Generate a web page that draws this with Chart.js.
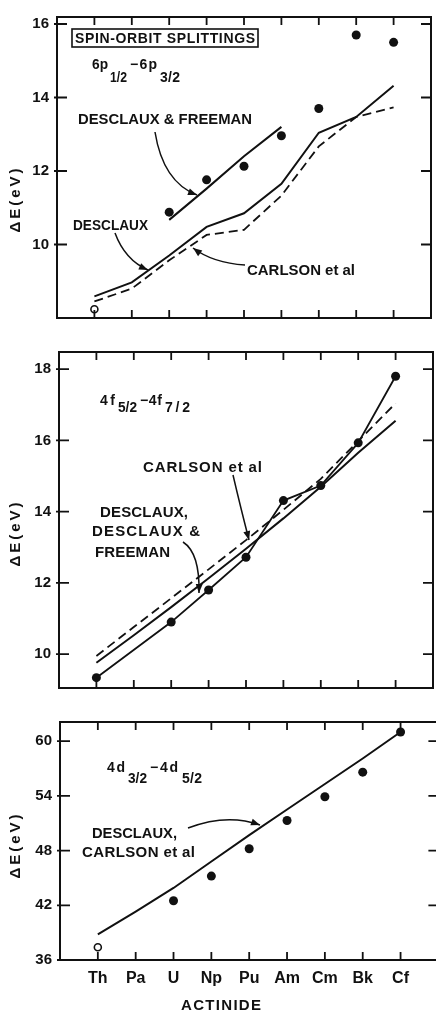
<!DOCTYPE html>
<html>
<head>
<meta charset="utf-8">
<script src="https://cdn.jsdelivr.net/npm/chart.js@4.4.0/dist/chart.umd.min.js"></script>
<style>
  html, body { margin: 0; padding: 0; background: #fff; width: 436px; height: 1011px; overflow: hidden; }
  .panel { position: absolute; left: 0; width: 444px; }
</style>
</head>
<body>
<div class="panel" style="top:0;height:335px"><canvas id="c1"></canvas></div>
<div class="panel" style="top:335px;height:370px"><canvas id="c2"></canvas></div>
<div class="panel" style="top:705px;height:306px"><canvas id="c3"></canvas></div>
<script>
const actinides = ["Th", "Pa", "U", "Np", "Pu", "Am", "Cm", "Bk", "Cf"];

// 6p1/2 - 6p3/2 splitting (eV)
const p6Measured = [null, null, 10.88, 11.76, 12.13, 12.96, 13.7, 15.7, 15.5];
const p6Estimate = [8.24, null, null, null, null, null, null, null, null];
const p6DesclauxFreeman = [null, null, 10.67, 11.52, 12.4, 13.2, null, null, null];
const p6Desclaux = [8.59, 8.97, 9.7, 10.48, 10.85, 11.65, 13.04, 13.47, 14.32];
const p6Carlson = [8.45, 8.8, 9.57, 10.26, 10.4, 11.33, 12.67, 13.47, 13.73];
const p6Ticks = [10, 12, 14, 16];

// 4f5/2 - 4f7/2 splitting (eV)
const f4Measured = [9.34, null, 10.9, 11.8, 12.72, 14.31, 14.73, 15.93, 17.8];
const f4Desclaux = [9.76, 10.53, 11.32, 12.13, 12.96, 13.81, 14.7, 15.65, 16.55];
const f4Carlson = [9.95, 10.76, 11.57, 12.38, 13.2, 14.05, 14.92, 15.98, 17.04];
const f4Ticks = [10, 12, 14, 16, 18];

// 4d3/2 - 4d5/2 splitting (eV)
const d4Measured = [null, null, 42.5, 45.2, 48.2, 51.3, 53.9, 56.6, 61.0];
const d4Estimate = [37.4, null, null, null, null, null, null, null, null];
const d4Theory = [38.8, 41.3, 43.9, 46.8, 49.7, 52.5, 55.3, 58.1, 61.0];
const d4Ticks = [36, 42, 48, 54, 60];

const FONT = '"Liberation Sans", Arial, sans-serif';
const INK = '#111';

function txt(ctx, s, x, y, size, w) {
  ctx.font = `bold ${size}px ${FONT}`;
  ctx.letterSpacing = '0px';
  const nat = ctx.measureText(s).width;
  if (w && w > nat && s.length > 1) {
    ctx.letterSpacing = ((w - nat) / (s.length - 1)) + 'px';
    ctx.fillText(s, x, y);
    ctx.letterSpacing = '0px';
  } else if (w) {
    ctx.fillText(s, x, y, w);
  } else {
    ctx.fillText(s, x, y);
  }
}

function arrow(ctx, p0, c, p1) {
  ctx.beginPath();
  ctx.moveTo(p0[0], p0[1]);
  ctx.quadraticCurveTo(c[0], c[1], p1[0], p1[1]);
  ctx.stroke();
  const a = Math.atan2(p1[1] - c[1], p1[0] - c[0]);
  const L = 9, W = 3.5;
  ctx.beginPath();
  ctx.moveTo(p1[0], p1[1]);
  ctx.lineTo(p1[0] - L * Math.cos(a) + W * Math.sin(a), p1[1] - L * Math.sin(a) - W * Math.cos(a));
  ctx.lineTo(p1[0] - L * Math.cos(a) - W * Math.sin(a), p1[1] - L * Math.sin(a) + W * Math.cos(a));
  ctx.closePath();
  ctx.fill();
}

// frame, inward ticks and the hand lettering
const annot = {
  id: 'annot',
  afterDraw(chart, args, o) {
    const { ctx, chartArea: a, scales: { x, y } } = chart;
    ctx.save();
    ctx.strokeStyle = INK;
    ctx.fillStyle = INK;
    ctx.lineWidth = 2;
    ctx.strokeRect(a.left, a.top, a.right - a.left, a.bottom - a.top);
    ctx.lineWidth = 1.8;
    ctx.beginPath();
    actinides.forEach((_, i) => {
      const px = x.getPixelForValue(i);
      ctx.moveTo(px, a.top); ctx.lineTo(px, a.top + 8);
      ctx.moveTo(px, a.bottom); ctx.lineTo(px, a.bottom - 8);
    });
    y.ticks.forEach(t => {
      const py = y.getPixelForValue(t.value);
      ctx.moveTo(a.left - 3, py); ctx.lineTo(a.left + 10, py);
      ctx.moveTo(a.right, py); ctx.lineTo(a.right - 10, py);
    });
    ctx.stroke();

    ctx.translate(0, -o.offset);
    ctx.textBaseline = 'alphabetic';
    ctx.textAlign = 'left';
    if (o.box) {
      ctx.lineWidth = 1.6;
      ctx.strokeRect(o.box[0], o.box[1], o.box[2], o.box[3]);
    }
    (o.texts || []).forEach(t => txt(ctx, t.s, t.x, t.y, t.size || 15, t.w));
    (o.subs || []).forEach(p => txt(ctx, p[0], p[1], p[2], 14, p[3]));
    ctx.lineWidth = 1.5;
    (o.arrows || []).forEach(r => arrow(ctx, r[0], r[1], r[2]));

    // rotated axis title
    ctx.save();
    ctx.translate(o.yTitle[0], o.yTitle[1]);
    ctx.rotate(-Math.PI / 2);
    ctx.textAlign = 'center';
    ctx.textBaseline = 'middle';
    ctx.font = `bold 15px ${FONT}`;
    ctx.letterSpacing = '3px';
    ctx.fillText('ΔE(eV)', 0, 0);
    ctx.letterSpacing = '0px';
    ctx.restore();

    if (o.xTitle) {
      txt(ctx, 'ACTINIDE', o.xTitle[0], o.xTitle[1], 15, o.xTitle[2]);
    }
    ctx.restore();
  }
};

const pts = vals => vals.map((v, i) => ({ x: i, y: v }));

function series(vals, kind) {
  const base = {
    data: pts(vals), borderColor: INK, backgroundColor: INK,
    pointBorderColor: INK, pointBackgroundColor: INK,
    spanGaps: true, tension: 0, pointBorderWidth: 0
  };
  if (kind === 'dots') return { ...base, showLine: false, pointRadius: 4.5 };
  if (kind === 'open') return { ...base, showLine: false, pointRadius: 3.5, pointBackgroundColor: '#fff', pointBorderWidth: 1.6 };
  if (kind === 'dotline') return { ...base, showLine: true, borderWidth: 1.8, pointRadius: 4.5 };
  if (kind === 'dash') return { ...base, showLine: true, borderWidth: 1.8, borderDash: [9, 5], pointRadius: 0 };
  return { ...base, showLine: true, borderWidth: 2, pointRadius: 0 };
}

function makeChart(id, o) {
  return new Chart(document.getElementById(id), {
    type: 'scatter',
    data: { datasets: o.datasets },
    options: {
      responsive: true,
      maintainAspectRatio: false,
      animation: false,
      layout: { padding: { top: o.padTop, bottom: o.padBottom, left: 0, right: 444 - o.right } },
      plugins: { legend: { display: false }, tooltip: { enabled: false }, annot: o.annot },
      scales: {
        x: {
          type: 'linear', min: -1, max: 9,
          afterBuildTicks: s => { s.ticks = actinides.map((_, i) => ({ value: i })); },
          afterFit: s => { s.height = o.xHeight; },
          ticks: {
            display: o.xLabels, autoSkip: false, maxRotation: 0, padding: 9,
            color: INK, font: { family: FONT, size: 16, weight: 'bold' },
            callback: v => actinides[v]
          },
          grid: { display: false, drawTicks: false },
          border: { display: false }
        },
        y: {
          min: o.yMin, max: o.yMax,
          afterBuildTicks: s => { s.ticks = o.yTicks.map(v => ({ value: v })); },
          afterFit: s => { s.width = o.left; },
          ticks: { padding: 8, color: INK, font: { family: FONT, size: 15, weight: 'bold' } },
          grid: { display: false, drawTicks: false },
          border: { display: false }
        }
      }
    },
    plugins: [annot]
  });
}

makeChart('c1', {
  left: 57, right: 431, padTop: 15, padBottom: 13, xHeight: 0, xLabels: false,
  yMin: 8, yMax: 16.19, yTicks: p6Ticks,
  datasets: [
    series(p6Desclaux, 'line'),
    series(p6Carlson, 'dash'),
    series(p6DesclauxFreeman, 'line'),
    series(p6Measured, 'dots'),
    series(p6Estimate, 'open')
  ],
  annot: {
    offset: 0,
    box: [72, 29, 186, 18],
    texts: [
      { s: 'SPIN-ORBIT SPLITTINGS', x: 75, y: 43, size: 14, w: 180 },
      { s: 'DESCLAUX & FREEMAN', x: 78, y: 124, w: 174 },
      { s: 'DESCLAUX', x: 73, y: 230, w: 75 },
      { s: 'CARLSON et al', x: 247, y: 275, w: 108 }
    ],
    subs: [['6p', 92, 69, 16], ['1/2', 110, 82, 17], ['−6p', 130, 69, 27], ['3/2', 160, 82, 20]],
    arrows: [
      [[155, 132], [163, 182], [197, 195]],
      [[115, 233], [125, 260], [148, 270]],
      [[245, 265], [213, 263], [193, 248]]
    ],
    yTitle: [16, 199]
  }
});

makeChart('c2', {
  left: 59, right: 433, padTop: 10, padBottom: 3, xHeight: 0, xLabels: false,
  yMin: 9.05, yMax: 18.48, yTicks: f4Ticks,
  datasets: [
    series(f4Desclaux, 'line'),
    series(f4Carlson, 'dash'),
    series(f4Measured, 'dotline')
  ],
  annot: {
    offset: 335,
    texts: [
      { s: 'CARLSON et al', x: 143, y: 472, w: 119 },
      { s: 'DESCLAUX,', x: 100, y: 517, w: 88 },
      { s: 'DESCLAUX &', x: 92, y: 536, w: 108 },
      { s: 'FREEMAN', x: 95, y: 557, w: 75 }
    ],
    subs: [['4f', 100, 405, 15], ['5/2', 118, 412, 19], ['−4f', 140, 405, 22], ['7/2', 165, 412, 25]],
    arrows: [
      [[233, 475], [240, 505], [249, 540]],
      [[183, 542], [200, 553], [199, 593]]
    ],
    yTitle: [16, 533]
  }
});

makeChart('c3', {
  left: 60, right: 440, padTop: 7, padBottom: 0, xHeight: 51, xLabels: true,
  yMin: 36, yMax: 62.1, yTicks: d4Ticks,
  datasets: [
    series(d4Theory, 'line'),
    series(d4Measured, 'dots'),
    series(d4Estimate, 'open')
  ],
  annot: {
    offset: 705,
    texts: [
      { s: 'DESCLAUX,', x: 92, y: 838, w: 85 },
      { s: 'CARLSON et al', x: 82, y: 857, w: 113 }
    ],
    subs: [['4d', 107, 772, 18], ['3/2', 128, 783, 19], ['−4d', 150, 772, 28], ['5/2', 182, 783, 20]],
    arrows: [
      [[188, 828], [227, 813], [260, 825]]
    ],
    yTitle: [16, 845],
    xTitle: [181, 1010, 80]
  }
});
</script>
</body>
</html>
